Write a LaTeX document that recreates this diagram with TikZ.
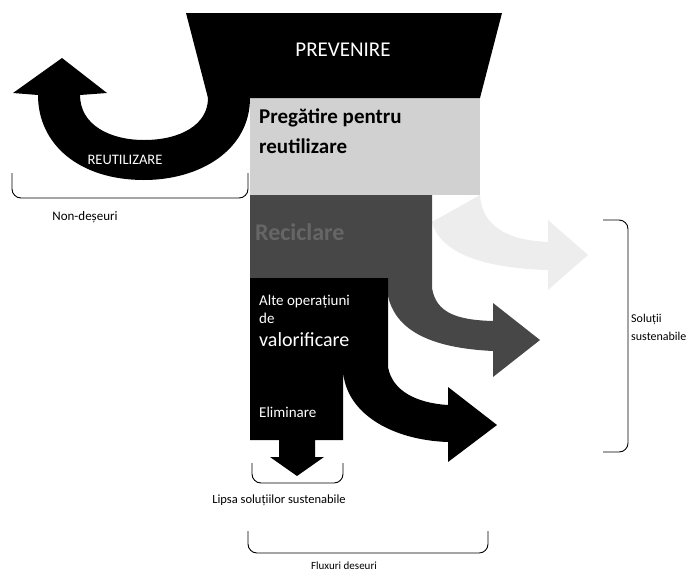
\documentclass[tikz,border=0pt]{standalone}
\usepackage{fontspec}
\setmainfont{Carlito}
\begin{document}
\begin{tikzpicture}[x=1pt,y=-1pt,
  bianco/.style={text=white,inner sep=0pt},
  nero/.style={text=black,inner sep=0pt},
  graffa/.style={draw=black,line width=0.9pt,rounded corners=9pt}]
  \useasboundingbox (0,0) rectangle (690,576);
  % livelli chiari: pregatire + freccia
  \fill[black!7] (432,222) .. controls (440,252) and (480,268) .. (548,270) -- (548,290) -- (588,255)
    -- (548,220) -- (548,242) .. controls (505,240) and (482,225) .. (480,195) -- cycle;
  \fill[black!18] (250,98) rectangle (480,195);
  % reciclare
  \fill[black!72] (250,195) -- (432,195) -- (432,288) .. controls (436,312) and (455,320) .. (493,321)
    -- (493,303) -- (540,340) -- (493,377) -- (493,351) .. controls (430,348) and (392,330) .. (387,290)
    -- (387,278) -- (250,278) -- cycle;
  % valorificare, eliminare
  \fill[black] (250,278) -- (388,278) -- (388,367) .. controls (392,390) and (415,403) .. (448,405)
    -- (448,387) -- (497,425) -- (448,462) -- (448,442) .. controls (390,440) and (345,412) .. (343,370)
    -- (343,440) -- (315,440) -- (315,457) -- (324,457) -- (297,476) -- (270,457) -- (279,457)
    -- (279,440) -- (250,440) -- cycle;
  % prevenire e reutilizare
  \fill[black] (186,13) -- (502,13) -- (480,98) -- (250,98) .. controls (250,150) and (200,180) .. (144,180)
    .. controls (80,180) and (38,145) .. (38,95) -- (13,93) -- (62,58) -- (107,93) -- (80,95)
    .. controls (80,125) and (110,140) .. (144,140) .. controls (180,140) and (208,125) .. (208,98) -- cycle;

  \node[bianco,font=\fontsize{21}{24}\selectfont] (prev) at (343,50) {PREVENIRE};
  \node[bianco,font=\fontsize{14.5}{16}\selectfont] (reut) at (125,160) {REUTILIZARE};
  \node[nero,anchor=base west,font=\bfseries\fontsize{21}{24}\selectfont] (preg1) at (259,123) {Pregătire pentru};
  \node[nero,anchor=base west,font=\bfseries\fontsize{21}{24}\selectfont] (preg2) at (259,153) {reutilizare};
  \node[anchor=base west,inner sep=0pt,text=black!60,font=\bfseries\fontsize{24}{26}\selectfont] (recic) at (255,240) {Reciclare};
  \node[bianco,anchor=base west,font=\fontsize{15}{17}\selectfont] (alte1) at (259,305) {Alte operațiuni};
  \node[bianco,anchor=base west,font=\fontsize{15}{17}\selectfont] (alte2) at (259,323) {de};
  \node[bianco,anchor=base west,font=\fontsize{20}{22}\selectfont] (alte3) at (259,346) {valorificare};
  \node[bianco,anchor=base west,font=\fontsize{15}{17}\selectfont] (elim) at (259,417) {Eliminare};

  \draw[graffa] (12,173) -- (12,198) -- (248,198) -- (248,173);
  \draw[graffa] (252,463) -- (252,483) -- (343,483) -- (343,463);
  \draw[graffa] (248,531) -- (248,553) -- (488,553) -- (488,531);
  \draw[graffa] (603,220) -- (628,220) -- (628,452) -- (603,452);

  \node[nero,font=\fontsize{13}{15}\selectfont] (nondes) at (85,217) {Non-deșeuri};
  \node[nero,font=\fontsize{12.5}{14}\selectfont] (lipsa) at (279,500) {Lipsa soluțiilor sustenabile};
  \node[nero,font=\fontsize{11}{13}\selectfont] (flux) at (344,566) {Fluxuri deseuri};
  \node[nero,anchor=base west,font=\fontsize{12}{14}\selectfont] (sol1) at (631,322) {Soluții};
  \node[nero,anchor=base west,font=\fontsize{12}{14}\selectfont] (sol2) at (631,340) {sustenabile};
\end{tikzpicture}
\end{document}
